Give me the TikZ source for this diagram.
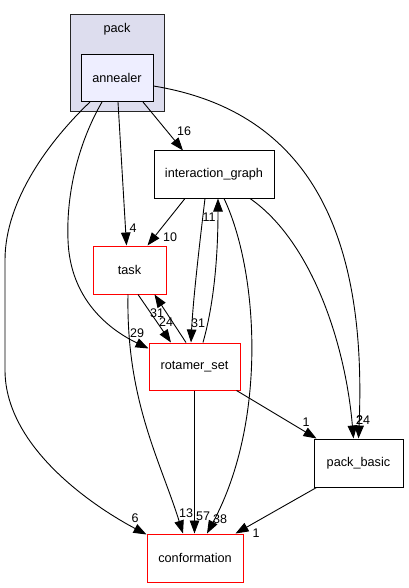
\documentclass[tikz,border=0pt]{standalone}
\usepackage{fontspec}
\setmainfont{Liberation Sans}
\usetikzlibrary{arrows.meta,calc}
\definecolor{clusterfill}{HTML}{DDDDEE}
\definecolor{nodefill}{HTML}{EEEEFF}
\begin{document}
\begin{tikzpicture}[x=1pt,y=-1pt,
  font=\fontsize{12.7}{15}\selectfont,
  box/.style={draw=black, line width=1pt, rectangle, inner sep=0pt, fill=white},
  redbox/.style={draw=red, line width=1pt, rectangle, inner sep=0pt, fill=white},
  edge/.style={-{Triangle[length=13pt,width=9.5pt]}, line width=0.9pt},
  lbl/.style={inner sep=0pt, font=\fontsize{12.5}{14}\selectfont}]
\useasboundingbox[fill=white] (0,0) rectangle (408,588);
% cluster
\node[draw=black!85, line width=1pt, fill=clusterfill, minimum width=94pt, minimum height=97pt, inner sep=0pt] (packcl) at (117,63.5) {};
\node[inner sep=0pt] (packlbl) at (117,29) {pack};
% nodes
\node[box, fill=nodefill, minimum width=72pt, minimum height=47pt] (annealer) at (117,78) {annealer};
\node[box, minimum width=120pt, minimum height=47pt] (ig) at (214,174.5) {interaction\_graph};
\node[redbox, minimum width=73pt, minimum height=48pt] (task) at (129.5,270) {task};
\node[redbox, minimum width=91pt, minimum height=47pt] (rs) at (194.5,366.5) {rotamer\_set};
\node[box, minimum width=89pt, minimum height=48pt] (pb) at (358.5,463) {pack\_basic};
\node[redbox, minimum width=96pt, minimum height=48pt] (cf) at (195,558) {conformation};
% edges
\draw[edge] ([xshift=26pt]annealer.south) -- ([xshift=-31pt]ig.north);
\draw[edge] ([xshift=1pt]annealer.south) -- ([xshift=-3pt]task.north);
\draw[edge] ([xshift=-15pt]annealer.south) .. controls (80,140) and (66,190) .. (68,240) .. controls (70,300) and (110,330) .. ([yshift=18pt]rs.west);
\draw[edge] ([xshift=-27pt]annealer.south) .. controls (50,140) and (5,200) .. (5,260) -- (5,370) .. controls (5,450) and (100,510) .. ([yshift=-1pt]cf.north west);
\draw[edge] ([yshift=-8pt]annealer.east) .. controls (300,110) and (368,220) .. (pb.north);
\draw[edge] ([xshift=36pt]ig.south) .. controls (310,240) and (345,340) .. ([xshift=-5pt]pb.north);
\draw[edge] ([xshift=-29pt]ig.south) -- ([xshift=18pt]task.north);
\draw[edge] ([xshift=-9pt]ig.south) .. controls (200,240) and (193,300) .. ([xshift=-3.5pt]rs.north);
\draw[edge] ([xshift=8.5pt]rs.north) .. controls (215,300) and (218,250) .. ([xshift=4pt]ig.south);
\draw[edge] ([xshift=10pt]ig.south) .. controls (258,270) and (268,420) .. ([xshift=12pt]cf.north);
\draw[edge] ([xshift=8.5pt]task.south) -- ([xshift=-23.5pt]rs.north);
\draw[edge] ([xshift=-8.5pt]rs.north) -- ([xshift=25pt]task.south);
\draw[edge] ([xshift=-1.5pt]task.south) .. controls (126,400) and (160,460) .. ([xshift=-12pt]cf.north);
\draw[edge] (rs.south) -- (rs.south |- cf.north);
\draw[edge] ([xshift=-4pt]rs.south east) -- ([xshift=3pt]pb.north west);
\draw[edge] ([xshift=3pt]pb.south west) -- ([xshift=-8pt]cf.north east);
% labels
\node[lbl] (l1) at (184,131) {16};
\node[lbl] (l2) at (133,228) {4};
\node[lbl] (l3) at (137,333) {29};
\node[lbl] (l4) at (135,518) {6};
\node[lbl] (l5) at (359.5,420) {2};
\node[lbl] (l6) at (363,420) {24};
\node[lbl] (l7) at (170,237) {10};
\node[lbl] (l8) at (198,323) {31};
\node[lbl] (l9) at (209,217) {11};
\node[lbl] (l10) at (220,519) {38};
\node[lbl] (l11) at (166,322) {24};
\node[lbl] (l12) at (157,313) {31};
\node[lbl] (l13) at (186,513) {13};
\node[lbl] (l14) at (203,516) {57};
\node[lbl] (l15) at (306,422) {1};
\node[lbl] (l16) at (256,533) {1};
\end{tikzpicture}
\end{document}
